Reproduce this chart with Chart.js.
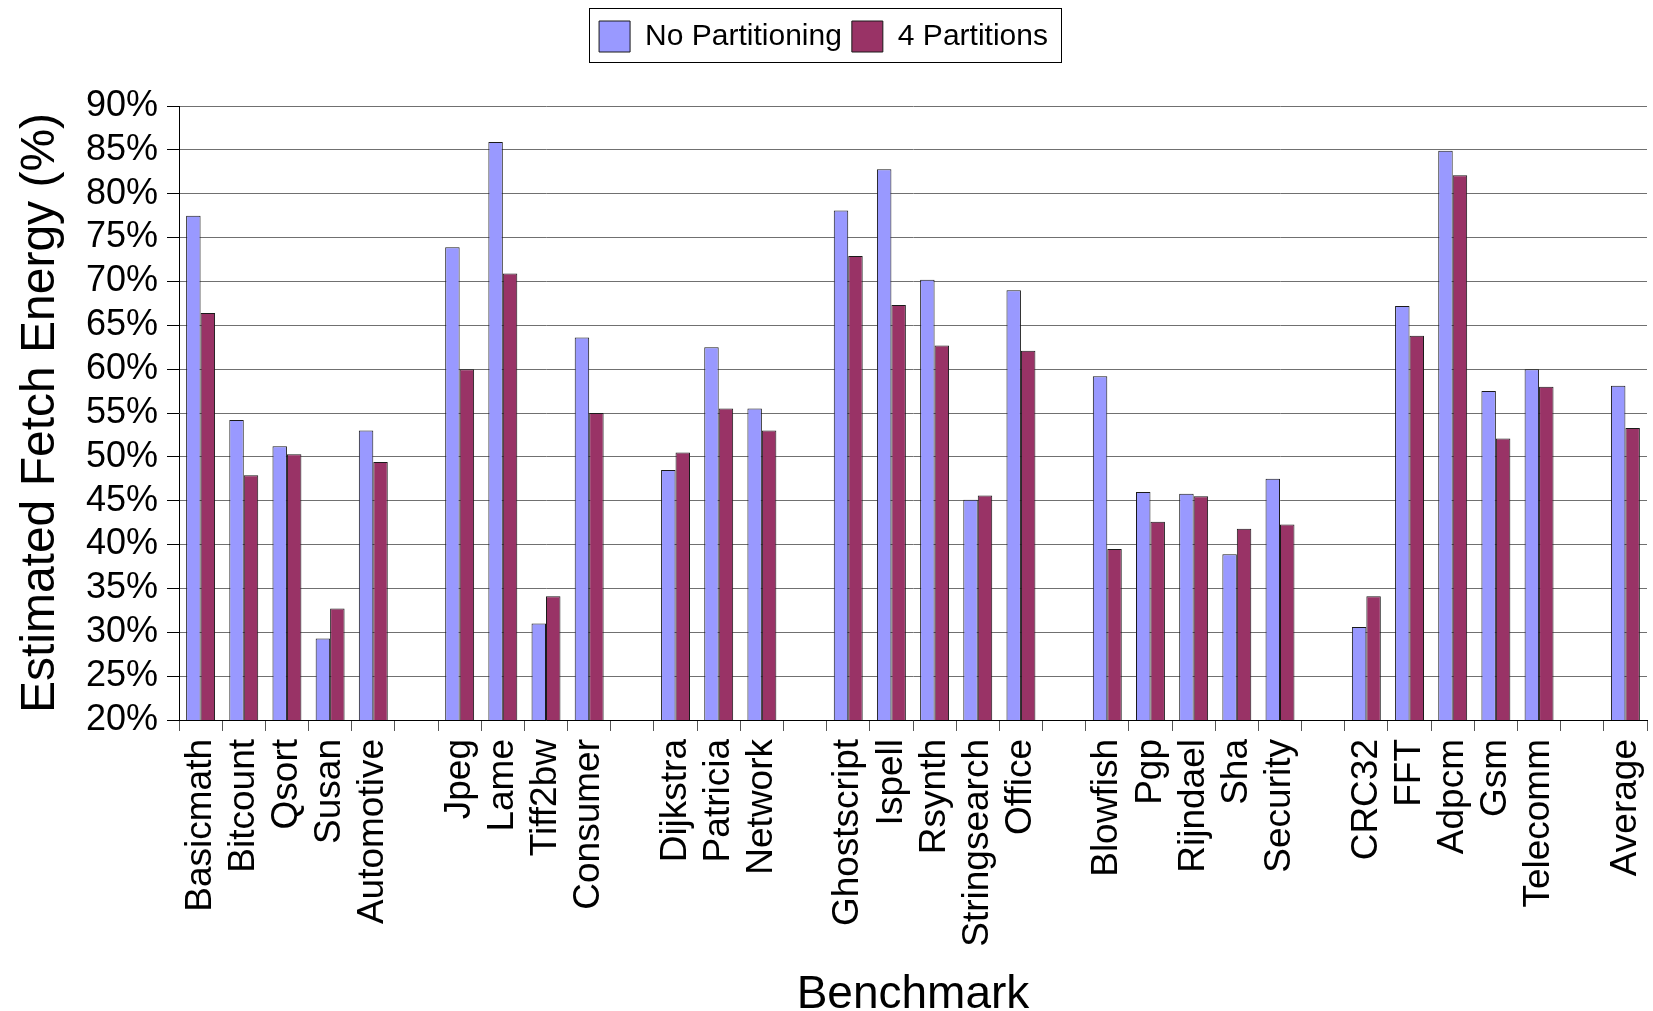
<!DOCTYPE html>
<html>
<head>
<meta charset="utf-8">
<title>Estimated Fetch Energy</title>
<script src="https://cdn.jsdelivr.net/npm/chart.js@4/dist/chart.umd.min.js"></script>
<style>
  html, body { margin: 0; padding: 0; background: #ffffff; }
  #wrap { width: 1653px; height: 1011px; position: relative; }
</style>
</head>
<body>
<div id="wrap"><canvas id="chart" width="1653" height="1011"></canvas></div>
<script>
// Benchmarks grouped by suite; empty strings leave a blank slot between suites.
const categories = [
  'Basicmath', 'Bitcount', 'Qsort', 'Susan', 'Automotive', '',
  'Jpeg', 'Lame', 'Tiff2bw', 'Consumer', '',
  'Dijkstra', 'Patricia', 'Network', '',
  'Ghostscript', 'Ispell', 'Rsynth', 'Stringsearch', 'Office', '',
  'Blowfish', 'Pgp', 'Rijndael', 'Sha', 'Security', '',
  'CRC32', 'FFT', 'Adpcm', 'Gsm', 'Telecomm', '',
  'Average'
];

// Estimated fetch energy (%) per benchmark
const noPartitioning = [
  77.5, 54.2, 51.2, 29.3, 53.0, null,
  73.9, 85.9, 31.0, 63.6, null,
  48.5, 62.5, 55.5, null,
  78.1, 82.8, 70.2, 45.1, 69.0, null,
  59.2, 46.0, 45.8, 38.9, 47.5, null,
  30.6, 67.2, 84.9, 57.5, 60.0, null,
  58.1
];

const fourPartitions = [
  66.4, 47.9, 50.3, 32.7, 49.4, null,
  60.0, 70.9, 34.1, 55.0, null,
  50.5, 55.5, 53.0, null,
  72.9, 67.3, 62.7, 45.6, 62.1, null,
  39.5, 42.6, 45.5, 41.8, 42.3, null,
  34.1, 63.8, 82.1, 52.1, 58.0, null,
  53.3
];

const yTickMin = 20;
const yTickMax = 90;
const yTickStep = 5;

const FONT = '"Liberation Sans", Arial, Helvetica, sans-serif';

// Legend spacing and a framed box around the legend entries
const legendFrame = {
  id: 'legendFrame',
  beforeInit(chart) {
    const legend = chart.legend;
    if (!legend) return;
    const fit = legend.fit;
    legend.fit = function () {
      fit.call(this);
      this.height = 95;
    };
  },
  afterDraw(chart) {
    const legend = chart.legend;
    if (!legend || !legend.legendHitBoxes || !legend.legendHitBoxes.length) return;
    const boxes = legend.legendHitBoxes;
    let l = Infinity, t = Infinity, r = -Infinity, b = -Infinity;
    boxes.forEach(hb => {
      l = Math.min(l, hb.left);
      t = Math.min(t, hb.top);
      r = Math.max(r, hb.left + hb.width);
      b = Math.max(b, hb.top + hb.height);
    });
    const ctx = chart.ctx;
    ctx.save();
    ctx.strokeStyle = '#000000';
    ctx.lineWidth = 1;
    ctx.strokeRect(Math.round(l - 10) + 0.5, Math.round(t - 13) + 0.5,
                   Math.round(r - l + 23), Math.round(b - t + 23));
    ctx.restore();
  }
};

new Chart(document.getElementById('chart'), {
  type: 'bar',
  data: {
    labels: categories,
    datasets: [
      {
        label: 'No Partitioning',
        data: noPartitioning,
        backgroundColor: '#9999FF',
        borderColor: '#1a1a1a',
        borderWidth: 1,
        barPercentage: 1.0,
        categoryPercentage: 0.67
      },
      {
        label: '4 Partitions',
        data: fourPartitions,
        backgroundColor: '#993366',
        borderColor: '#1a1a1a',
        borderWidth: 1,
        barPercentage: 1.0,
        categoryPercentage: 0.67
      }
    ]
  },
  options: {
    responsive: false,
    animation: false,
    devicePixelRatio: 1,
    layout: { padding: { top: 11, right: 6, bottom: 0, left: 0 } },
    plugins: {
      legend: {
        display: true,
        position: 'top',
        align: 'center',
        labels: {
          boxWidth: 31,
          boxHeight: 31,
          padding: 10,
          color: '#000000',
          font: { family: FONT, size: 30 }
        }
      },
      tooltip: { enabled: false }
    },
    scales: {
      x: {
        type: 'category',
        offset: true,
        grid: {
          display: true,
          offset: true,
          drawOnChartArea: false,
          drawTicks: true,
          tickLength: 11,
          tickColor: '#555555',
          color: '#555555'
        },
        border: { display: true, color: '#000000', width: 1 },
        ticks: {
          autoSkip: false,
          maxRotation: 90,
          minRotation: 90,
          padding: 8,
          color: '#000000',
          font: { family: FONT, size: 37 }
        },
        title: {
          display: true,
          text: 'Benchmark',
          color: '#000000',
          font: { family: FONT, size: 46, lineHeight: 0.7 },
          padding: { top: 0, bottom: 0 }
        },
        afterFit(scale) {
          scale.height = 291;
          scale.paddingLeft = 0;
          scale.paddingRight = 0;
        }
      },
      y: {
        min: yTickMin,
        max: yTickMax,
        grid: {
          display: true,
          color: '#707070',
          lineWidth: 1,
          drawTicks: true,
          tickLength: 12,
          tickColor: '#000000'
        },
        border: { display: true, color: '#000000', width: 1 },
        ticks: {
          stepSize: yTickStep,
          autoSkip: false,
          padding: 9,
          color: '#000000',
          font: { family: FONT, size: 36, lineHeight: 1 },
          callback: v => v + '%'
        },
        title: {
          display: true,
          text: 'Estimated Fetch Energy (%)',
          color: '#000000',
          font: { family: FONT, size: 48, lineHeight: 1 },
          padding: { top: 17, bottom: 0 }
        },
        afterFit(scale) {
          scale.width = 179;
          scale.paddingTop = 0;
          scale.paddingBottom = 0;
        }
      }
    }
  },
  plugins: [legendFrame]
});
</script>
</body>
</html>
